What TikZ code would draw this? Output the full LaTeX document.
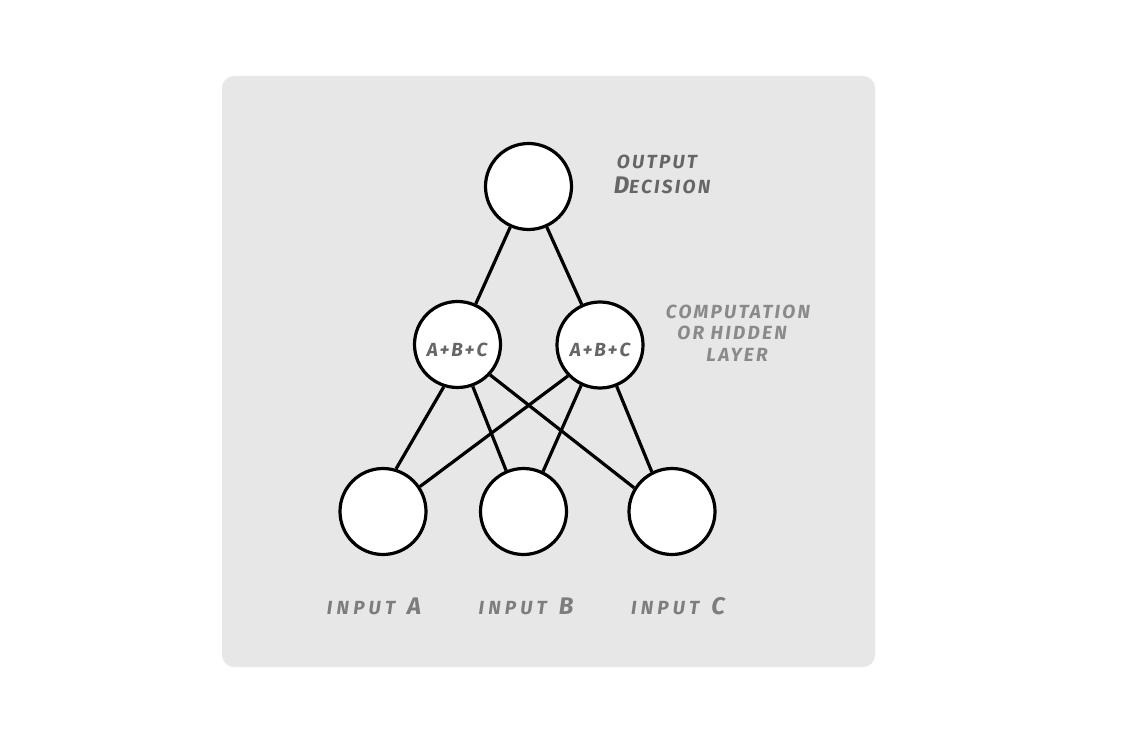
\documentclass[tikz,border=0pt]{standalone}
\usepackage{fontspec}
\newfontfamily\hand[LetterSpace=12]{Fira Sans}
\newfontfamily\handwide[LetterSpace=22]{Fira Sans}
\newfontfamily\handnarrow[LetterSpace=10]{Fira Sans}
\definecolor{panel}{HTML}{E7E7E7}
\definecolor{txtdark}{HTML}{666666}
\definecolor{txtlight}{HTML}{8A8A8A}
\tikzset{
  neuron/.style={circle, draw=black, line width=3.2pt, fill=white, minimum size=86pt, inner sep=0pt},
  link/.style={line width=3.2pt, draw=black},
  lbl/.style={font=\hand\bfseries\itshape, inner sep=0pt, text=txtdark},
  inlbl/.style={font=\handwide\bfseries\itshape, inner sep=0pt, text=txtdark!85},
  sumlbl/.style={font=\handnarrow\bfseries\itshape, inner sep=0pt, text=txtdark},
}
\newcommand{\sm}[1]{{\fontsize{19}{19}\selectfont #1}}
\newcommand{\bg}[1]{{\fontsize{24}{24}\selectfont #1}}
\begin{document}
\begin{tikzpicture}[x=1pt,y=-1pt]
\useasboundingbox (0,0) rectangle (1129,735);
\fill[white] (0,0) rectangle (1129,735);
\fill[panel, rounded corners=12pt] (222,76) rectangle (875,667);

% nodes
\node[neuron] (out) at (528.5,186.5) {};
\node[neuron] (hl) at (457.5,344.5) {};
\node[neuron] (hr) at (600,345) {};
\node[neuron] (ia) at (383,511.5) {};
\node[neuron] (ib) at (523.5,511.5) {};
\node[neuron] (ic) at (672,511.5) {};

% connectors
\draw[link] (out) -- (hl);
\draw[link] (out) -- (hr);
\draw[link] (hl.252) -- (ia.73);
\draw[link] (hl.290) -- (ib.113);
\draw[link] (hl.317) -- (ic.148);
\draw[link] (hr.224) -- (ia.34);
\draw[link] (hr.245) -- (ib.64);
\draw[link] (hr.292) -- (ic.117);

% texts in hidden nodes
\node[sumlbl] (hlt) at (457,350) {\sm{A+B+C}};
\node[sumlbl] (hrt) at (600,350) {\sm{A+B+C}};

% labels
\node[lbl] (o1) at (657,162) {\sm{OUTPUT}};
\node[lbl] (o2) at (662,185) {\bg{D}\sm{ECISION}};
\node[lbl, text=txtlight] (c1) at (738,312) {\sm{COMPUTATION}};
\node[lbl, text=txtlight] (c2) at (732,333) {\sm{OR HIDDEN}};
\node[lbl, text=txtlight] (c3) at (737,355) {\sm{LAYER}};
\node[inlbl] (la) at (374,606) {\sm{INPUT}\hspace{12pt}\bg{A}};
\node[inlbl] (lb) at (526,606) {\sm{INPUT}\hspace{12pt}\bg{B}};
\node[inlbl] (lc) at (678,606) {\sm{INPUT}\hspace{12pt}\bg{C}};
\end{tikzpicture}
\end{document}
